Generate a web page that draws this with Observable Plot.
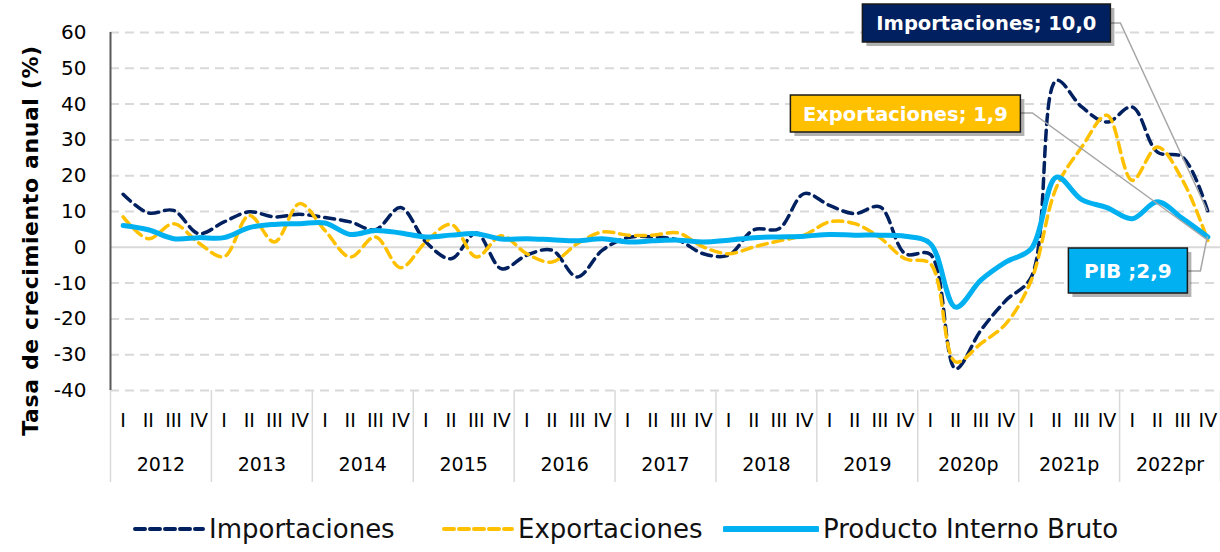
<!DOCTYPE html>
<html><head><meta charset="utf-8">
<script src="https://cdn.jsdelivr.net/npm/d3@7"></script>
<script src="https://cdn.jsdelivr.net/npm/@observablehq/plot@0.6"></script>
<style>
body{margin:0;background:#fff;font-family:"DejaVu Sans",sans-serif;}
#wrap{width:1220px;}
#legend{position:relative;width:1220px;height:52px;overflow:hidden;}
#legend .it{position:absolute;top:14px;display:flex;align-items:center;font-size:26px;color:#111;white-space:nowrap;}
#legend svg{margin-right:4px;}
</style>
</head><body>
<div id="wrap"><div id="chart"></div><div id="legend"></div></div>
<script>
const quarters = ["I","II","III","IV"];
const years = ["2012","2013","2014","2015","2016","2017","2018","2019","2020p","2021p","2022pr"];
const yTicks = [-40,-30,-20,-10,0,10,20,30,40,50,60];
const importaciones = [14.8,9.6,10.3,3.8, 7.1,9.9,8.5,9.2, 8.3,7.1,4.9,11.1, 1.5,-3.2,4.0,-6.0, -2.2,-0.8,-8.3,-0.8, 2.7,2.9,2.0,-1.8, -2.2,4.9,5.2,15.0, 11.7,9.4,11.3,-1.8, -2.0,-33.9,-23.2,-14.8, -8.3,46.6,39.2,35.0, 39.2,26.6,25.2,10.0];
const exportaciones = [8.5,2.4,6.6,1.2, -2.6,8.9,1.5,12.2, 4.7,-2.7,2.9,-5.7, 1.5,6.4,-2.7,3.2, -1.8,-4.1,1.0,4.3, 3.4,3.4,4.0,0.1, -1.8,0.1,1.8,3.4, 7.1,6.6,2.7,-3.2, -4.6,-32.0,-26.9,-21.3, -9.2,16.8,28.0,36.9, 18.7,28.0,18.7,1.9];
const pib = [6.1,4.9,2.4,2.7, 2.7,5.5,6.4,6.6, 6.8,3.6,4.7,4.0, 2.9,3.4,3.8,2.3, 2.4,2.1,1.8,2.4, 1.5,1.8,2.0,1.5, 2.0,2.7,2.9,3.1, 3.6,3.4,3.4,3.1, 1.0,-16.7,-9.2,-4.1, -0.4,19.6,13.3,11.1, 8.0,12.7,8.0,2.9];
const seriesNames = ["Importaciones","Exportaciones","Producto Interno Bruto"];
const colors = ["#002060","#FFC000","#00B0F0"];
const callouts = [
  {text:"Importaciones; 10,0", value:importaciones[43], fill:"#002060"},
  {text:"Exportaciones; 1,9", value:exportaciones[43], fill:"#FFC000"},
  {text:"PIB ;2,9", value:pib[43], fill:"#00B0F0"}
];
const yTitle = "Tasa de crecimiento anual (%)";

const rows = importaciones.map((v,i)=>({t:i+0.5, imp:v, exp:exportaciones[i], pib:pib[i]}));
const nQ = rows.length;

const chart = Plot.plot({
  width:1220, height:500, marginLeft:110, marginRight:0, marginTop:32, marginBottom:110,
  style:{fontFamily:"DejaVu Sans", fontSize:"20px", background:"#fff", color:"#000", overflow:"visible"},
  x:{type:"linear", domain:[0,nQ]},
  y:{domain:[-40,60]},
  marks:[
    Plot.gridY({ticks:yTicks.filter(d=>d!==0), stroke:"#d9d9d9", strokeOpacity:1, strokeWidth:2, strokeDasharray:"9,6"}),
    Plot.ruleY([0], {stroke:"#d9d9d9", strokeWidth:2}),
    Plot.ruleX([0], {stroke:"#595959", strokeWidth:2}),
    Plot.axisY({ticks:yTicks, tickSize:0, tickPadding:24, tickFormat:d=>String(d), label:null, fontSize:20}),
    Plot.axisX({ticks:d3.range(nQ).map(i=>i+0.5), tickSize:0, tickPadding:23, tickFormat:d=>quarters[Math.floor(d)%4], label:null, fontSize:19}),
    Plot.axisX({ticks:years.map((y,i)=>i*4+2), tickSize:0, tickPadding:67, tickFormat:d=>years[Math.floor(d/4)], label:null, fontSize:19}),
    Plot.axisX({ticks:d3.range(0,nQ+1,4), tickSize:92, tickFormat:()=>"", stroke:"#d9d9d9", strokeWidth:1.5, label:null}),
    Plot.text([yTitle], {text:d=>d, frameAnchor:"left", textAnchor:"middle", rotate:-90, dx:-80, dy:29, fontWeight:"bold", fontSize:22, className:"ytitle"}),
    Plot.line(rows, {x:"t", y:"imp", curve:"catmull-rom", stroke:colors[0], strokeWidth:3.5, strokeDasharray:"10,6"}),
    Plot.line(rows, {x:"t", y:"exp", curve:"catmull-rom", stroke:colors[1], strokeWidth:3.5, strokeDasharray:"10,6"}),
    Plot.line(rows, {x:"t", y:"pib", curve:"catmull-rom", stroke:colors[2], strokeWidth:5})
  ]
});
document.getElementById("chart").appendChild(chart);
d3.select(chart).selectAll(".ytitle text").style("letter-spacing","0.6px");

// callouts
const xs = chart.scale("x"), ys = chart.scale("y");
const svg = d3.select(chart);
const ex = xs.apply(nQ-0.5);
const layout = [
  {bx:-345, by:4, bw:248, bh:38, lx:10, ly:23},
  {bx:-417, by:95, bw:230, bh:37, lx:12, ly:113},
  {bx:-139, by:248, bw:119, bh:45, lx:13, ly:271}
];
const g = svg.append("g");
callouts.forEach((c,i)=>{
  const L = layout[i];
  const ey = ys.apply(c.value);
  const x0 = ex + L.bx, x1 = x0 + L.bw;
  g.append("polyline").attr("points",`${x1},${L.ly} ${x1+L.lx},${L.ly} ${ex},${ey}`)
    .attr("fill","none").attr("stroke","#a6a6a6").attr("stroke-width",1.5);
  g.append("rect").attr("x",x0+4).attr("y",L.by+4).attr("width",L.bw).attr("height",L.bh).attr("fill","#000").attr("opacity",0.3);
  g.append("rect").attr("x",x0).attr("y",L.by).attr("width",L.bw).attr("height",L.bh).attr("fill",c.fill).attr("stroke","#1a1a1a").attr("stroke-width",1.5);
  g.append("text").attr("x",x0+L.bw/2).attr("y",L.by+L.bh/2).attr("dy","0.36em").attr("text-anchor","middle")
    .attr("fill","#fff").attr("font-weight","bold").attr("font-size", i===2?20:19.5).text(c.text);
});

// legend
const leg = document.getElementById("legend");
const legPos = [{x:133, w:72, dash:"10,5", sw:4},{x:442, w:72, dash:"10,5", sw:4},{x:723, w:96, dash:null, sw:6}];
seriesNames.forEach((n,i)=>{
  const p = legPos[i];
  const it = document.createElement("div");
  it.className = "it"; it.style.left = p.x+"px";
  it.innerHTML = `<svg width="${p.w}" height="10"><line x1="2" x2="${p.w-2}" y1="5" y2="5" stroke="${colors[i]}" stroke-width="${p.sw}" ${p.dash?`stroke-dasharray="${p.dash}"`:""} stroke-linecap="round"/></svg><span>${n}</span>`;
  leg.appendChild(it);
});
</script>
</body></html>
